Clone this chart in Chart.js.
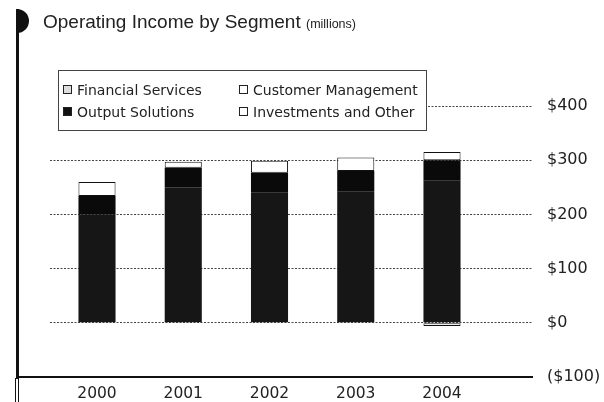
<!DOCTYPE html>
<html lang="en">
<head>
    <meta charset="utf-8">
    <title>Operating Income by Segment</title>
    <script src="https://cdn.jsdelivr.net/npm/chart.js"></script>
    <style>
        body {
            margin: 0;
            background: #fff;
        }
        #wrap {
            position: relative;
            width: 604px;
            height: 402px;
            color: #222;
        }
        #title {
            position: absolute;
            left: 43px;
            top: 11px;
            font-family: "Liberation Sans", Arial, sans-serif;
            font-size: 19px;
            white-space: nowrap;
        }
        #title small {
            font-size: 12.5px;
        }
        #legend {
            position: absolute;
            left: 58px;
            top: 70px;
            width: 367px;
            height: 59px;
            border: 1px solid #444;
            background: #fff;
            box-shadow: -9px 0 0 #fff;
            font-family: "DejaVu Sans", sans-serif;
            font-size: 14px;
        }
        .item {
            position: absolute;
            white-space: nowrap;
            line-height: 16px;
        }
        .swatch {
            display: inline-block;
            width: 7px;
            height: 7px;
            border: 1px solid #222;
            margin-right: 5px;
            vertical-align: 1px;
        }
    </style>
</head>
<body>
<div id="wrap">
    <canvas id="incomeChart" width="604" height="402"></canvas>
    <div id="title">Operating Income by Segment <small>(millions)</small></div>
    <div id="legend"></div>
</div>

<script>
    // operating income per segment, $ millions
    var years = [2000, 2001, 2002, 2003, 2004];
    var financialServices = [200, 250, 240, 242, 262];
    var outputSolutions = [34, 36, 37, 38, 38];
    var customerManagement = [26, 11, 22, 25, 15];
    var investmentsOther = [null, null, null, null, -6];
    var yTicks = [-100, 0, 100, 200, 300, 400];

    function points(values) {
        return years.map((y, i) => ({ x: y, y: values[i] }));
    }

    function money(v) {
        return v < 0 ? '($' + (-v) + ')' : '$' + v;
    }

    // left rule with the half-disc cap, and the solid base line
    var framePlugin = {
        id: 'frame',
        afterDraw(chart) {
            var ctx = chart.ctx;
            var yScale = chart.scales.y;
            var base = Math.round(yScale.getPixelForValue(-100));
            ctx.save();
            ctx.fillStyle = '#111';
            ctx.fillRect(16, 9, 3, base - 8);
            ctx.beginPath();
            ctx.arc(17, 21, 12, -Math.PI / 2, Math.PI / 2);
            ctx.closePath();
            ctx.fill();
            ctx.strokeStyle = '#111';
            ctx.lineWidth = 1;
            ctx.strokeRect(15.5, base + 1.5, 3, 402 - base);
            ctx.lineWidth = 2;
            ctx.beginPath();
            ctx.moveTo(16, base);
            ctx.lineTo(chart.chartArea.right, base);
            ctx.stroke();
            ctx.restore();
        }
    };

    var chart = new Chart(document.getElementById('incomeChart').getContext('2d'), {
        type: 'bar',
        data: {
            datasets: [{
                label: 'Financial Services',
                data: points(financialServices),
                backgroundColor: '#161616',
                borderWidth: 0,
                swatch: '#ddd'
            }, {
                label: 'Output Solutions',
                data: points(outputSolutions),
                backgroundColor: '#0a0a0a',
                borderWidth: 0,
                swatch: '#111'
            }, {
                label: 'Customer Management',
                data: points(customerManagement),
                backgroundColor: '#fff',
                swatch: '#fff'
            }, {
                label: 'Investments and Other',
                data: points(investmentsOther),
                backgroundColor: '#fff',
                swatch: '#fff'
            }]
        },
        options: {
            responsive: false,
            animation: false,
            barPercentage: 0.43,
            categoryPercentage: 1,
            borderColor: '#111',
            borderWidth: 1,
            borderSkipped: false,
            layout: {
                padding: { left: 50, top: 106, right: 0, bottom: 0 }
            },
            plugins: {
                legend: { display: false },
                tooltip: { enabled: false }
            },
            scales: {
                x: {
                    type: 'linear',
                    stacked: true,
                    offset: false,
                    min: 1999.455,
                    max: 2005.055,
                    afterBuildTicks: scale => {
                        scale.ticks = years.map(v => ({ value: v }));
                    },
                    afterFit: scale => {
                        scale.height = 25;
                    },
                    grid: { display: false, drawTicks: false },
                    border: { display: false },
                    ticks: {
                        padding: 8,
                        color: '#222',
                        font: { family: 'DejaVu Sans', size: 15.5 },
                        callback: v => String(v)
                    }
                },
                y: {
                    position: 'right',
                    stacked: true,
                    min: -100,
                    max: 400,
                    afterBuildTicks: scale => {
                        scale.ticks = yTicks.map(v => ({ value: v }));
                    },
                    afterFit: scale => {
                        scale.width = 71;
                    },
                    grid: {
                        drawTicks: false,
                        color: c => c.tick && c.tick.value === -100 ? 'rgba(0,0,0,0)' : '#444',
                        lineWidth: 1
                    },
                    border: { display: false, dash: [2, 1.5] },
                    ticks: {
                        padding: 14,
                        color: '#222',
                        font: { family: 'DejaVu Sans', size: 16 },
                        callback: v => money(v)
                    }
                }
            }
        },
        plugins: [framePlugin]
    });

    // two-column legend in a ruled box
    var legend = document.getElementById('legend');
    var spots = [[4, 11], [4, 33], [180, 11], [180, 33]];
    chart.data.datasets.forEach(function (ds, i) {
        var item = document.createElement('div');
        item.className = 'item';
        item.style.left = spots[i][0] + 'px';
        item.style.top = spots[i][1] + 'px';
        item.innerHTML = '<span class="swatch" style="background:' + ds.swatch + '"></span>' + ds.label;
        legend.appendChild(item);
    });
</script>
</body>
</html>
